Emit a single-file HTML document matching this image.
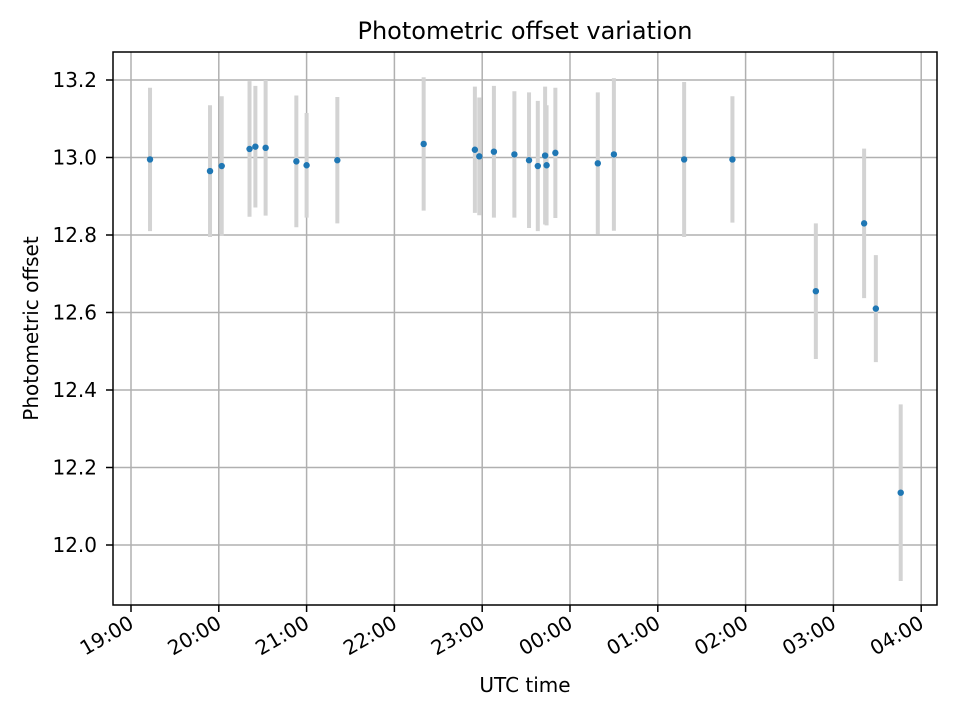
<!DOCTYPE html>
<html><head><meta charset="utf-8"><style>
body{margin:0;background:#fff;font-family:"Liberation Sans","DejaVu Sans",sans-serif}
svg text{font-family:"DejaVu Sans","Liberation Sans",sans-serif;}
</style></head><body>
<svg id="c" width="960" height="720" xmlns="http://www.w3.org/2000/svg"></svg>
<script>
// minutes since 19:00
const times=[13,54,62,81,85,92,113,120,141,200,235,238,248,262,272,278,283,284,290,319,330,378,411,468,501,509,526];
const values=[12.995,12.965,12.978,13.022,13.028,13.025,12.99,12.98,12.993,13.035,13.02,13.003,13.015,13.008,12.993,12.978,13.005,12.98,13.012,12.985,13.008,12.995,12.995,12.655,12.83,12.61,12.135];
const errors=[0.185,0.17,0.18,0.175,0.157,0.175,0.17,0.135,0.163,0.172,0.163,0.152,0.17,0.163,0.175,0.168,0.178,0.155,0.168,0.183,0.197,0.2,0.163,0.175,0.193,0.138,0.228];
const xTickLabels=["19:00","20:00","21:00","22:00","23:00","00:00","01:00","02:00","03:00","04:00"];
const yTicks=[12.0,12.2,12.4,12.6,12.8,13.0,13.2];

const svg=document.getElementById('c');const NS='http://www.w3.org/2000/svg';
const L=113,R=937,T=52,B=605;
const x=m=>131+m*(87.8/60);
const y=v=>545-(v-12.0)*387.5;
function el(t,a,p){const e=document.createElementNS(NS,t);for(const k in a)e.setAttribute(k,a[k]);(p||svg).appendChild(e);return e;}
const grid=el('g',{});
xTickLabels.forEach((lab,i)=>{const px=x(i*60);
 el('line',{x1:px,x2:px,y1:T,y2:B,stroke:'#b0b0b0','stroke-width':1.5},grid);
 el('line',{x1:px,x2:px,y1:B,y2:B+7,stroke:'#000','stroke-width':1.5});
 const t=el('text',{x:px+4,y:B+22,'font-size':20,'text-anchor':'end',transform:`rotate(-30 ${px+4} ${B+22})`});
 t.textContent=lab;
 
 
});
yTicks.forEach(v=>{const py=y(v);
 el('line',{x1:L,x2:R,y1:py,y2:py,stroke:'#b0b0b0','stroke-width':1.5},grid);
 el('line',{x1:L-7,x2:L,y1:py,y2:py,stroke:'#000','stroke-width':1.5});
 const t=el('text',{x:L-16,y:py+7,'font-size':20,'text-anchor':'end'});t.textContent=v.toFixed(1);
 
 
});
const eg=el('g',{});
const pg=el('g',{});
times.forEach((m,i)=>{
 const b=el('line',{x1:x(m),x2:x(m),y1:y(values[i]-errors[i]),y2:y(values[i]+errors[i]),stroke:'#d3d3d3','stroke-width':4},eg);
 
 
});
times.forEach((m,i)=>{
 const c=el('circle',{cx:x(m),cy:y(values[i]),r:3.2,fill:'#1f77b4'},pg);
 
 
});
const fr=el('rect',{x:L,y:T,width:R-L,height:B-T,fill:'none',stroke:'#000','stroke-width':1.5});

const ti=el('text',{x:(L+R)/2,y:39,'font-size':24,'text-anchor':'middle'});ti.textContent='Photometric offset variation';

const xt=el('text',{x:(L+R)/2,y:692,'font-size':20,'text-anchor':'middle'});xt.textContent='UTC time';

const yt=el('text',{x:38,y:(T+B)/2,'font-size':20,'text-anchor':'middle',transform:`rotate(-90 38 ${(T+B)/2})`});yt.textContent='Photometric offset';

</script>
</body></html>
